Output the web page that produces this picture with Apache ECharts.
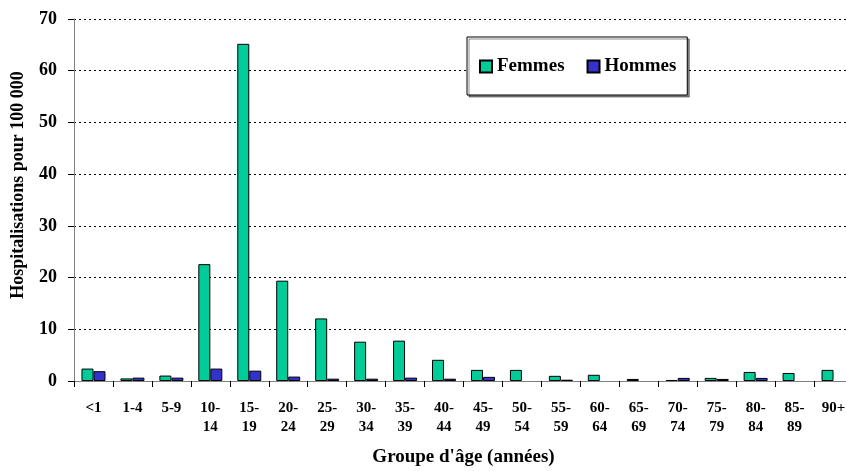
<!DOCTYPE html>
<html><head><meta charset="utf-8">
<script src="https://cdn.jsdelivr.net/npm/echarts@6/dist/echarts.min.js"></script>
<style>html,body{margin:0;padding:0;background:#fff}#c{width:846px;height:471px}</style>
</head><body><div id="c"></div>
<script>
const categories = ['<1','1-4','5-9','10-\n14','15-\n19','20-\n24','25-\n29','30-\n34','35-\n39','40-\n44','45-\n49','50-\n54','55-\n59','60-\n64','65-\n69','70-\n74','75-\n79','80-\n84','85-\n89','90+'];
const femmes = [2.4,0.5,1.05,22.6,65.2,19.4,12.1,7.6,7.8,4.1,2.15,2.15,1.0,1.2,0.4,0.2,0.6,1.75,1.55,2.15];
const hommes = [1.9,0.65,0.65,2.4,2.0,0.85,0.45,0.45,0.65,0.45,0.8,0,0.25,0,0,0.6,0.4,0.6,0,0];
const yTicks = {min:0, max:70, interval:10};
const yTitle = 'Hospitalisations pour 100 000';
const xTitle = "Groupe d'âge (années)";

const serif = 'Liberation Serif';
const noZero = a => a.map(v => v === 0 ? null : v);
const chart = echarts.init(document.getElementById('c'));
chart.setOption({
  animation:false,
  backgroundColor:'#fff',
  textStyle:{fontFamily:serif},
  grid:{left:74, top:19, width:779, height:362, outerBoundsMode:'none', containLabel:false},
  legend:{
    left:467, top:37,
    padding:[20,11,19,12],
    backgroundColor:'#fff', borderColor:'#000', borderWidth:1,
    shadowColor:'rgba(0,0,0,0.45)', shadowOffsetX:2, shadowOffsetY:2, shadowBlur:0,
    itemWidth:12, itemHeight:12, itemGap:22,
    icon:'rect',
    textStyle:{fontFamily:serif, fontWeight:'bold', fontSize:19, color:'#000'},
    data:['Femmes','Hommes']
  },
  graphic:[{
    type:'text', x:18, y:185, rotation:Math.PI/2,
    style:{text:yTitle, fontFamily:serif, fontWeight:'bold', fontSize:18, fill:'#000', align:'center', verticalAlign:'middle'}
  }],
  xAxis:{
    type:'category', data:categories,
    axisLine:{lineStyle:{color:'#808080', width:1}},
    axisTick:{show:true, length:6, lineStyle:{color:'#000'}},
    axisLabel:{fontFamily:serif, fontWeight:'bold', fontSize:15, color:'#000', margin:18, lineHeight:19, interval:0},
    name:xTitle, nameLocation:'middle', nameGap:67,
    nameTextStyle:{fontFamily:serif, fontWeight:'bold', fontSize:19, color:'#000'}
  },
  yAxis:{
    type:'value', min:yTicks.min, max:yTicks.max, interval:yTicks.interval,
    axisLine:{show:true, lineStyle:{color:'#808080', width:1}},
    axisTick:{show:true, length:6, lineStyle:{color:'#000'}},
    axisLabel:{fontFamily:serif, fontWeight:'bold', fontSize:18, color:'#000', margin:17},
    splitLine:{show:true, lineStyle:{color:'#000', type:[2,3], width:1}}
  },
  series:[
    {name:'Femmes', type:'bar', data:noZero(femmes), barWidth:12, barGap:'0%',
     itemStyle:{color:'#00CC99', borderColor:'#000', borderWidth:1}},
    {name:'Hommes', type:'bar', data:noZero(hommes), barWidth:12, barGap:'0%',
     itemStyle:{color:'#3333CC', borderColor:'#000', borderWidth:1}}
  ]
});
</script></body></html>
